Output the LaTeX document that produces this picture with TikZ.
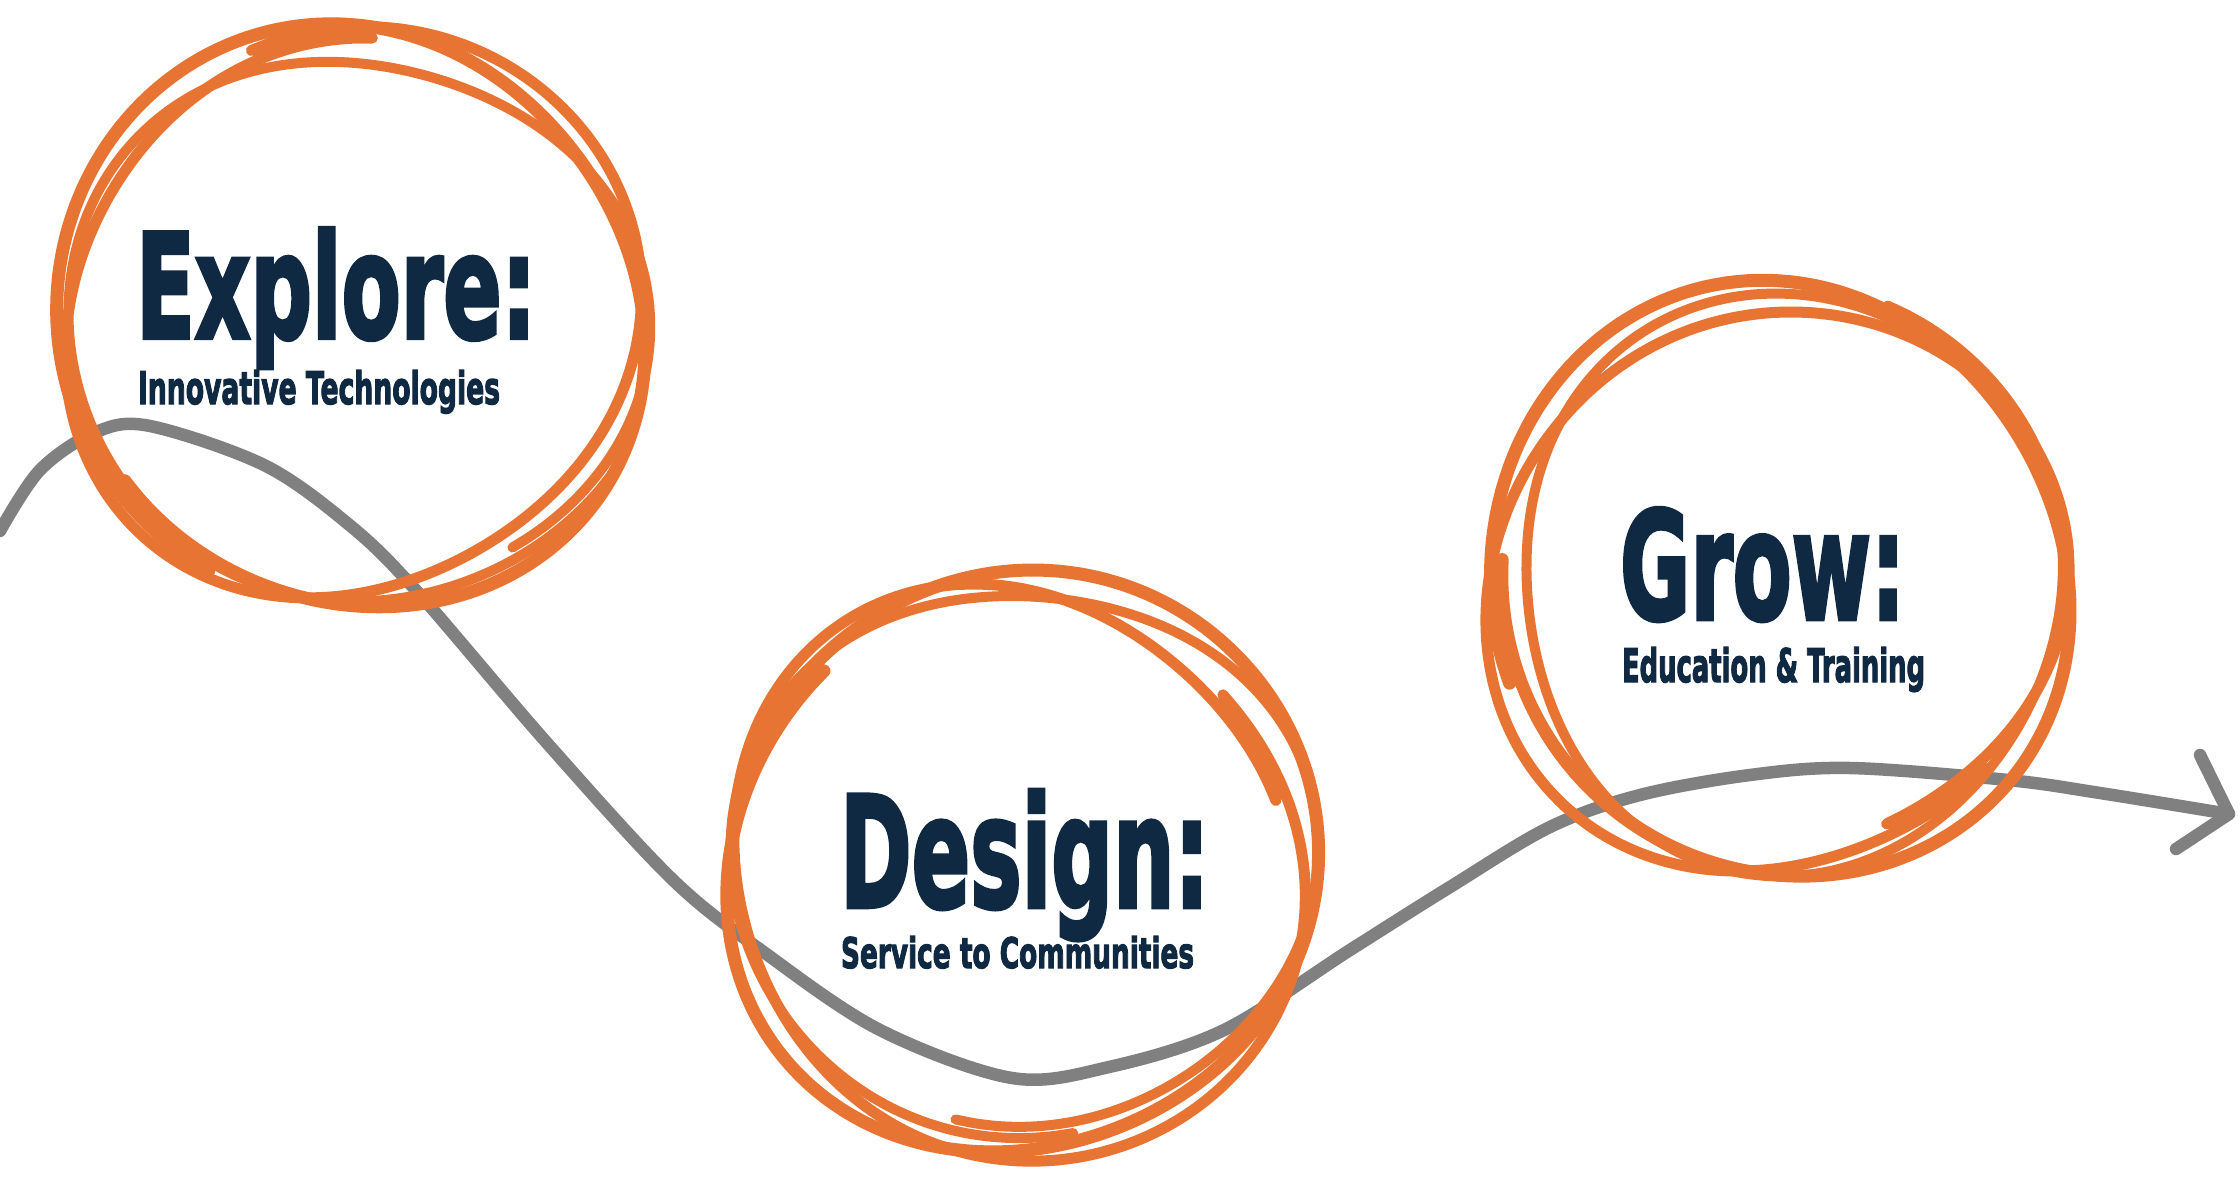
\documentclass[tikz,border=0pt]{standalone}
\usepackage{graphicx}
\usepackage{fontspec}
\setmainfont{DejaVu Sans}
\newfontfamily\antonfont{DejaVu Sans}[UprightFont=* Bold, FakeBold=3]
\definecolor{navy}{HTML}{102942}
\definecolor{orng}{HTML}{E87434}
\definecolor{grayline}{HTML}{808080}
\tikzset{
  orangeloop/.style={draw=orng, line cap=round, line join=round},
  pathline/.style={draw=grayline, line width=12.5pt, line cap=round, line join=round},
  txt/.style={inner sep=0pt, outer sep=0pt, text=navy, font=\antonfont},
}
\newcommand\nodepth[1]{\raisebox{0pt}[\height][0pt]{#1}}
\def\skd{-12}
\def\sk#1#2#3#4#5#6#7#8#9{%
  \draw[orangeloop, line width=#1pt] plot[domain=0:385, samples=90, smooth, variable=\t]
   ({#2+(#4+#5*cos(2*(\t+#9-#6))+#7*sin(3*(\t+#9)+#8)+\skd*\t/385)*cos(\t+#9)},
    {#3+(#4+#5*cos(2*(\t+#9-#6))+#7*sin(3*(\t+#9)+#8)+\skd*\t/385)*sin(\t+#9)});}
\begin{document}
\begin{tikzpicture}[x=1pt, y=-1pt]
\useasboundingbox (0,0) rectangle (2240,1182);
\fill[white] (0,0) rectangle (2240,1182);
% gray path
\coordinate (start) at (0,531);
\coordinate (tip) at (2229,814);
\coordinate (legA) at (2200,755);
\coordinate (legB) at (2176,849);
\draw[pathline] plot[smooth, tension=0.55] coordinates {
 (start) (40,470) (96,432) (150,426) (264,465) (347,523) (413,587) (547,743)
 (673,880) (765,953) (880,1030) (1012,1078) (1109,1067) (1224,1030)
 (1350,950) (1450,887) (1550,827) (1640,795) (1750,775) (1850,768) (2008,780) (2100,793) (tip)};
\draw[pathline] (legA) -- (tip) -- (legB);
% circle 1
\sk{13}{353}{321}{298}{11}{45}{3}{0}{120}
\sk{11}{348}{316}{290}{15}{-40}{4}{60}{250}
\sk{10}{358}{327}{286}{13}{10}{5}{120}{30}
% circle 2
\sk{13}{1019}{866}{299}{11}{-35}{3}{30}{200}
\sk{11}{1013}{871}{291}{15}{50}{4}{90}{320}
\sk{10}{1025}{860}{287}{13}{0}{5}{150}{80}
% circle 3
\sk{13}{1782}{584}{298}{11}{60}{3}{10}{160}
\sk{11}{1777}{589}{290}{15}{-30}{4}{70}{40}
\sk{10}{1788}{579}{286}{13}{90}{5}{130}{290}
% text
\node[txt, anchor=base west] (explore) at (136,338) {\resizebox{400pt}{110pt}{\nodepth{Explore:}}};
\node[txt, anchor=base west] (exploresub) at (138,404) {\resizebox{362pt}{34pt}{\nodepth{Innovative Technologies}}};
\node[txt, anchor=base west] (design) at (840,907) {\resizebox{369pt}{117pt}{\nodepth{Design:}}};
\node[txt, anchor=base west] (designsub) at (841,968) {\resizebox{353pt}{32pt}{\nodepth{Service to Communities}}};
\node[txt, anchor=base west] (grow) at (1620,619) {\resizebox{285pt}{111pt}{\nodepth{Grow:}}};
\node[txt, anchor=base west] (growsub) at (1622,682) {\resizebox{303pt}{35pt}{\nodepth{Education \& Training}}};
\end{tikzpicture}
\end{document}
